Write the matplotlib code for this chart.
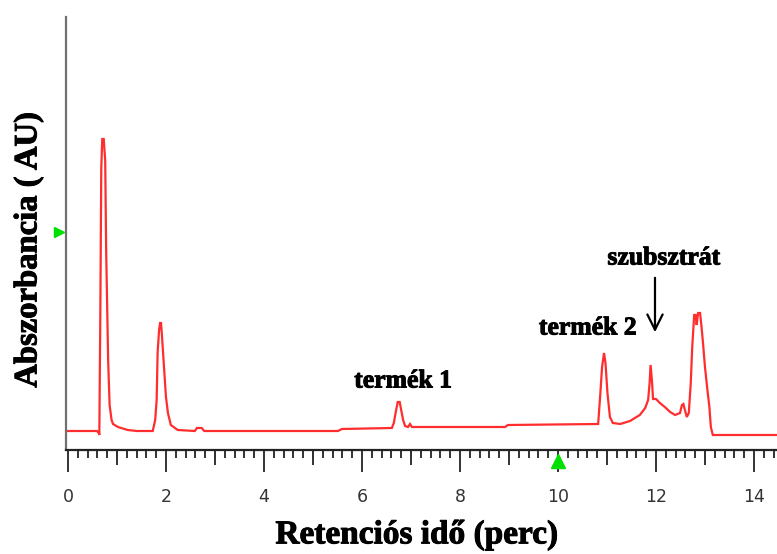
"""HPLC chromatogram: termék 1, termék 2 és szubsztrát csúcsok."""

import matplotlib
matplotlib.use("Agg")
import matplotlib.pyplot as plt
import matplotlib.patheffects as pe
from matplotlib.ticker import MultipleLocator, FixedLocator, NullFormatter

# retention time (min) and detector signal (arbitrary units)
time_min = [
    -0.04, 0.59, 0.63, 0.64, 0.66, 0.68, 0.70, 0.73, 0.745, 0.76, 0.78,
    0.82, 0.85, 0.89, 0.92, 1.02, 1.22, 1.41,
    1.73, 1.78, 1.81, 1.83, 1.86, 1.88, 1.90, 1.92, 1.96, 2.00, 2.04,
    2.10, 2.24, 2.59, 2.63, 2.73, 2.78,
    5.51, 5.59, 6.61, 6.65, 6.69, 6.73, 6.77, 6.80, 6.84, 6.88, 6.94,
    6.98, 7.02, 8.92, 8.98,
    10.82, 10.86, 10.90, 10.94, 10.97, 11.01, 11.06, 11.12, 11.27, 11.47,
    11.67, 11.78, 11.84, 11.87, 11.89, 11.92, 11.94, 12.00, 12.08, 12.18,
    12.29, 12.39, 12.49, 12.53, 12.56, 12.59, 12.63, 12.67, 12.71, 12.74,
    12.78, 12.81, 12.83, 12.86, 12.90, 12.93, 12.96, 13.00, 13.05, 13.09,
    13.12, 13.16, 14.47,
]
signal = [
    19, 19, 17, 15, 133, 282, 311, 311, 300, 290, 198,
    90, 45, 30, 26, 23, 20, 19,
    19, 30, 50, 98, 120, 127, 127, 113, 83, 53, 37,
    25, 20, 19, 22, 22, 19,
    19, 21, 22, 27, 38, 48, 48, 40, 30, 24, 23,
    26, 23, 23, 25,
    26, 53, 83, 97, 87, 57, 33, 27, 26, 29,
    35, 42, 50, 67, 85, 68, 51, 51, 47, 43,
    38, 35, 37, 45, 46, 40, 33, 37, 67, 103,
    135, 135, 125, 137, 137, 123, 107, 83, 60, 43,
    23, 15, 15,
]

peak_labels = ["termék 1", "termék 2", "szubsztrát"]
peak_label_pos = [(6.84, 69), (10.61, 122), (12.16, 192)]
arrow_time = 11.98
arrow_from, arrow_to = 175, 115
y_marker = 218
x_marker = 10

serif = ["Liberation Serif", "DejaVu Serif"]
heavy = [pe.withStroke(linewidth=0.7, foreground="black")]

fig = plt.figure(figsize=(7.77, 5.54), dpi=100)
ax = fig.add_axes([66 / 777, 104 / 554, 711 / 777, 433 / 554])

ax.plot(time_min, signal, color="#ff2d2d", lw=1.6, solid_joinstyle="miter")

ax.set_xlim(-0.04, 14.47)
ax.set_ylim(0, 433)

for side in ("top", "right"):
    ax.spines[side].set_visible(False)
ax.spines["left"].set_color("#707070")
ax.spines["left"].set_linewidth(1.6)
ax.spines["bottom"].set_color("#222222")
ax.spines["bottom"].set_linewidth(1.6)

ax.set_yticks([])
ax.xaxis.set_major_locator(MultipleLocator(2))
ax.xaxis.set_minor_locator(MultipleLocator(0.2))
ax.tick_params(axis="x", which="major", length=16, width=1.4, color="#333333",
               pad=11, labelsize=12.5, labelcolor="#333333")
ax.tick_params(axis="x", which="minor", length=6, width=1.4, color="#333333")

# medium ticks on the odd minutes
mid = ax.secondary_xaxis("bottom")
mid.xaxis.set_major_locator(FixedLocator([1, 3, 5, 7, 9, 11, 13]))
mid.xaxis.set_major_formatter(NullFormatter())
mid.tick_params(length=11, width=1.4, color="#333333")
mid.spines["bottom"].set_visible(False)

# green markers
ax.plot([-7 / 711], [y_marker], marker=">", color="#00e000", ms=7,
        transform=ax.get_yaxis_transform(), clip_on=False)
ax.plot([x_marker], [-0.026], marker="^", color="#00e000", ms=10,
        transform=ax.get_xaxis_transform(), clip_on=False)

for text, (tx, ty) in zip(peak_labels, peak_label_pos):
    ax.text(tx, ty, text, ha="center", va="center", fontsize=18.5,
            fontweight="bold", family=serif, path_effects=heavy)

ax.annotate("", xy=(arrow_time, arrow_to), xytext=(arrow_time, arrow_from),
            arrowprops=dict(arrowstyle="->,head_length=1.1,head_width=0.55",
                            color="black", lw=1.6))

fig.text(417 / 777, 1 - 535 / 554, "Retenciós idő (perc)", ha="center",
         va="center", fontsize=24, fontweight="bold", family=serif,
         path_effects=heavy)
fig.text(28 / 777, 1 - 250 / 554, "Abszorbancia ( AU)", ha="center",
         va="center", rotation=90, fontsize=23.5, fontweight="bold",
         family=serif, path_effects=heavy)

fig.savefig("out.png", dpi=100)
